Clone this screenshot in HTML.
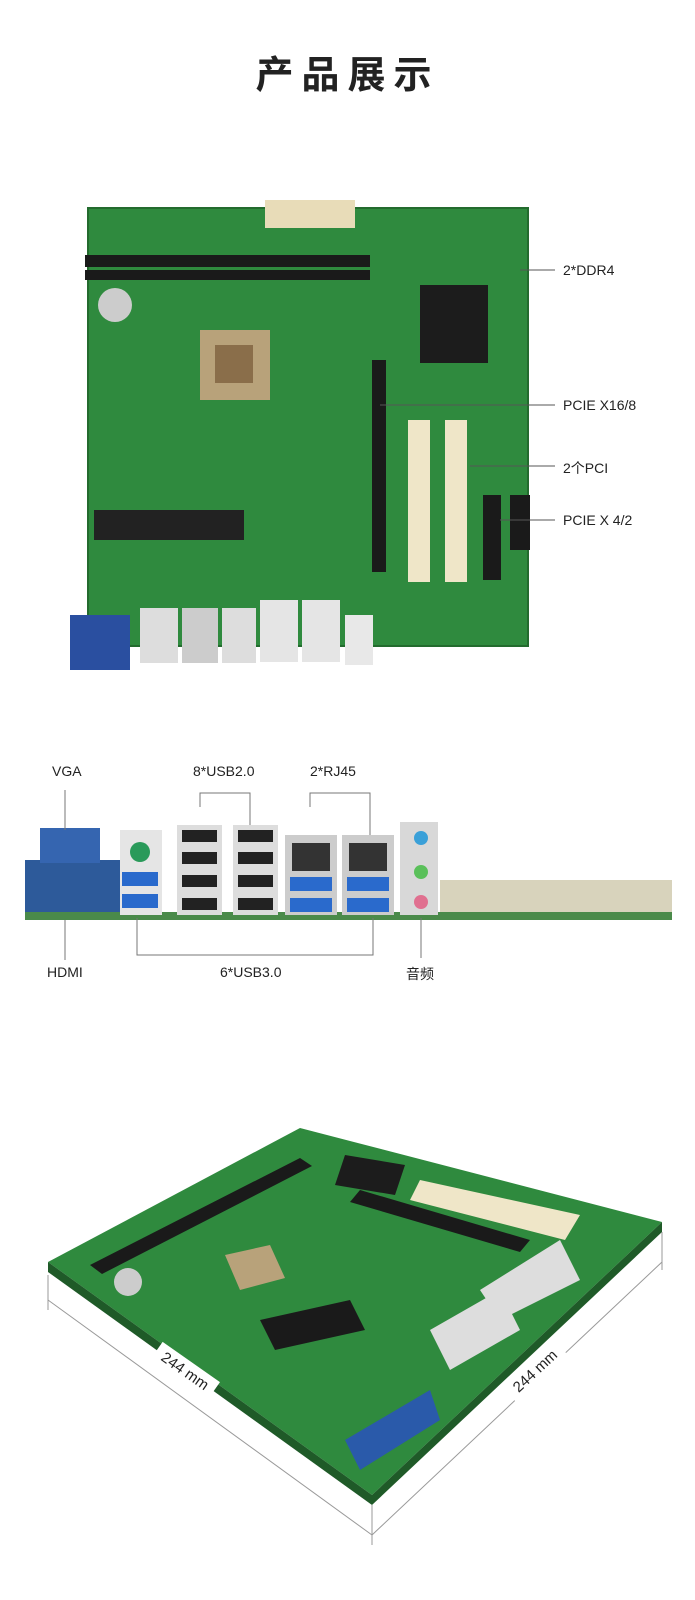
<!DOCTYPE html>
<html><head><meta charset="utf-8"><style>
body{margin:0;width:695px;height:1600px;background:#fff;position:relative;overflow:hidden;font-family:"Liberation Sans","Noto Sans CJK SC",sans-serif;}
.t{position:absolute;font-size:14px;color:#222;white-space:nowrap}
h1{position:absolute;top:44px;left:0;width:695px;text-align:center;margin:0;font-size:38px;letter-spacing:8px;color:#222;font-weight:bold;font-family:"Noto Sans CJK SC",sans-serif}
</style></head><body>
<h1>产品展示</h1>
<svg width="695" height="1600" style="position:absolute;left:0;top:0">
<!-- board 1 -->
<rect x="88" y="208" width="440" height="438" fill="#2f8a3e"/>
<rect x="88" y="208" width="440" height="438" fill="none" stroke="#236b2e" stroke-width="2"/>
<rect x="265" y="200" width="90" height="28" fill="#e8dcb8"/>
<rect x="85" y="255" width="285" height="12" fill="#1a1a1a"/>
<rect x="85" y="270" width="285" height="10" fill="#1a1a1a"/>
<rect x="420" y="285" width="68" height="78" fill="#1c1c1c"/>
<rect x="200" y="330" width="70" height="70" fill="#b8a27a"/><rect x="215" y="345" width="38" height="38" fill="#8a6e4a"/>
<rect x="372" y="360" width="14" height="212" fill="#1a1a1a"/>
<rect x="408" y="420" width="22" height="162" fill="#efe6c8"/>
<rect x="445" y="420" width="22" height="162" fill="#efe6c8"/>
<rect x="483" y="495" width="18" height="85" fill="#1a1a1a"/>
<rect x="510" y="495" width="20" height="55" fill="#1a1a1a"/>
<rect x="94" y="510" width="150" height="30" fill="#222"/>
<circle cx="115" cy="305" r="17" fill="#ccc"/>
<rect x="70" y="615" width="60" height="55" fill="#2a4fa0"/>
<rect x="140" y="608" width="38" height="55" fill="#ddd"/><rect x="182" y="608" width="36" height="55" fill="#ccc"/>
<rect x="222" y="608" width="34" height="55" fill="#ddd"/><rect x="260" y="600" width="38" height="62" fill="#e5e5e5"/>
<rect x="302" y="600" width="38" height="62" fill="#e5e5e5"/><rect x="345" y="615" width="28" height="50" fill="#e8e8e8"/>
<g stroke="#555" stroke-width="1" fill="none">
<path d="M520 270H555"/><path d="M380 405H555"/><path d="M470 466H555"/><path d="M500 520H555"/>
</g>
<!-- io panel -->
<rect x="25" y="912" width="647" height="8" fill="#4a8a4a"/>
<rect x="25" y="860" width="100" height="52" fill="#2d5a9a"/>
<rect x="40" y="828" width="60" height="35" fill="#3565b0"/>
<rect x="120" y="830" width="42" height="85" fill="#e5e5e5"/><circle cx="140" cy="852" r="10" fill="#2a9a5a"/>
<rect x="122" y="872" width="36" height="14" fill="#2a6acc"/><rect x="122" y="894" width="36" height="14" fill="#2a6acc"/>
<rect x="177" y="825" width="45" height="90" fill="#ddd"/><rect x="233" y="825" width="45" height="90" fill="#ddd"/>
<g fill="#222"><rect x="182" y="830" width="35" height="12"/><rect x="182" y="852" width="35" height="12"/><rect x="182" y="875" width="35" height="12"/><rect x="182" y="898" width="35" height="12"/>
<rect x="238" y="830" width="35" height="12"/><rect x="238" y="852" width="35" height="12"/><rect x="238" y="875" width="35" height="12"/><rect x="238" y="898" width="35" height="12"/></g>
<rect x="285" y="835" width="52" height="80" fill="#ccc"/><rect x="342" y="835" width="52" height="80" fill="#ccc"/>
<rect x="292" y="843" width="38" height="28" fill="#333"/><rect x="349" y="843" width="38" height="28" fill="#333"/>
<rect x="290" y="877" width="42" height="14" fill="#2a6acc"/><rect x="290" y="898" width="42" height="14" fill="#2a6acc"/>
<rect x="347" y="877" width="42" height="14" fill="#2a6acc"/><rect x="347" y="898" width="42" height="14" fill="#2a6acc"/>
<rect x="400" y="822" width="38" height="93" fill="#d8d8d8"/>
<circle cx="421" cy="838" r="7" fill="#3aa0d8"/><circle cx="421" cy="872" r="7" fill="#5ac05a"/><circle cx="421" cy="902" r="7" fill="#e07090"/>
<rect x="440" y="880" width="232" height="32" fill="#c8c0a0" opacity=".7"/>
<g stroke="#777" fill="none">
<path d="M65 790V830"/><path d="M200 807V793H250V825"/><path d="M310 807V793H370V835"/>
<path d="M65 920V960"/><path d="M137 918V955H373V918"/><path d="M421 918V958"/>
</g>
<!-- iso board -->
<polygon points="48,1262 300,1128 662,1222 372,1495" fill="#2f8a3e"/>
<polygon points="48,1262 372,1495 372,1505 48,1272" fill="#1f5a28"/>
<polygon points="372,1495 662,1222 662,1232 372,1505" fill="#1f5a28"/>
<polygon points="90,1265 300,1158 312,1166 102,1274" fill="#1a1a1a"/>
<polygon points="360,1190 530,1240 520,1252 350,1202" fill="#1a1a1a"/>
<polygon points="420,1180 580,1215 565,1240 410,1200" fill="#efe6c8"/>
<polygon points="345,1155 405,1165 395,1195 335,1185" fill="#1c1c1c"/>
<polygon points="225,1255 270,1245 285,1278 240,1290" fill="#b8a27a"/>
<polygon points="260,1320 350,1300 365,1330 275,1350" fill="#1a1a1a"/>
<polygon points="345,1440 430,1390 440,1420 360,1470" fill="#2a5aaa"/>
<polygon points="430,1330 500,1290 520,1330 450,1370" fill="#ddd"/>
<polygon points="480,1290 560,1240 580,1280 500,1320" fill="#ddd"/>
<circle cx="128" cy="1282" r="14" fill="#ccc"/>
<g stroke="#999" fill="none">
<path d="M48 1275V1310"/><path d="M48 1300L372 1535"/><path d="M372 1505V1545"/><path d="M372 1535L662 1262"/><path d="M662 1232V1270"/>
</g>
<rect x="150" y="1360" width="70" height="22" fill="#fff" transform="rotate(35 185 1371)"/>
<rect x="500" y="1360" width="70" height="22" fill="#fff" transform="rotate(-43 535 1371)"/>
<text x="185" y="1376" font-size="15" text-anchor="middle" transform="rotate(35 185 1371)" fill="#222" font-family="Liberation Sans">244 mm</text>
<text x="535" y="1376" font-size="15" text-anchor="middle" transform="rotate(-43 535 1371)" fill="#222" font-family="Liberation Sans">244 mm</text>
</svg>
<div class="t" style="left:563px;top:262px">2*DDR4</div>
<div class="t" style="left:563px;top:397px">PCIE X16/8</div>
<div class="t" style="left:563px;top:458px">2个PCI</div>
<div class="t" style="left:563px;top:512px">PCIE X 4/2</div>
<div class="t" style="left:52px;top:763px">VGA</div>
<div class="t" style="left:193px;top:763px">8*USB2.0</div>
<div class="t" style="left:310px;top:763px">2*RJ45</div>
<div class="t" style="left:47px;top:964px">HDMI</div>
<div class="t" style="left:220px;top:964px">6*USB3.0</div>
<div class="t" style="left:406px;top:964px">音频</div>
</body></html>
